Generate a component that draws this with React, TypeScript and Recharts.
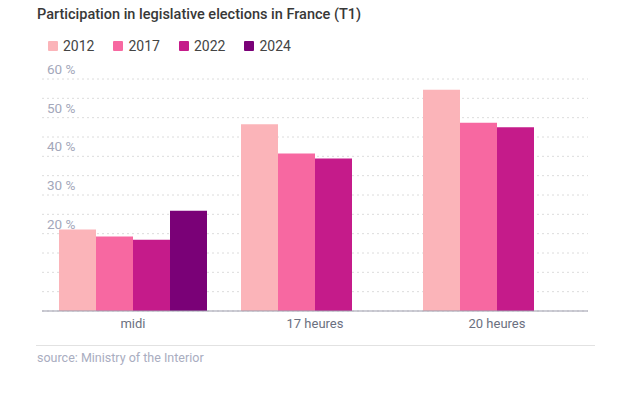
import React from "react";
import { BarChart, Bar, XAxis, YAxis, CartesianGrid } from "recharts";

const categories = ["midi", "17 heures", "20 heures"];
const years = ["2012", "2017", "2022", "2024"];
const colors = ["#fbb4b9", "#f768a1", "#c51b8a", "#7a0177"];
const values2012 = [21.06, 48.31, 57.22];
const values2017 = [19.24, 40.75, 48.7];
const values2022 = [18.43, 39.42, 47.51];
const values2024: (number | null)[] = [25.9, null, null];
const yTicks = [0, 5, 10, 15, 20, 25, 30, 35, 40, 45, 50, 55, 60];
const labeledTicks = [20, 30, 40, 50, 60];

const seriesValues = [values2012, values2017, values2022, values2024];
const data = categories.map((c, i) => {
  const row: Record<string, any> = { name: c };
  years.forEach((y, j) => {
    row[y] = seriesValues[j][i];
  });
  return row;
});

const FONT = "Roboto, 'Noto Sans', sans-serif";

const renderYTick = (props: any) => {
  const { x, y, payload } = props;
  if (!labeledTicks.includes(payload.value)) return <g />;
  return (
    <text x={x + 5} y={y - 5} fill="#a3a7ba" fontSize={13.5} fontFamily={FONT} textAnchor="start">
      {payload.value} %
    </text>
  );
};

export default function App() {
  return (
    <div style={{ position: "absolute", left: 0, top: 0, width: 624, height: 396, background: "#fff", fontFamily: FONT }}>
      <div style={{ position: "absolute", left: 37, top: 6, fontSize: 14.5, fontWeight: 500, color: "#383838" }}>
        Participation in legislative elections in France (T1)
      </div>
      <div style={{ position: "absolute", left: 48, top: 38, display: "flex", fontSize: 14, color: "#444" }}>
        {years.map((y, i) => (
          <div key={y} style={{ display: "flex", alignItems: "center", marginRight: 19 }}>
            <span style={{ display: "inline-block", width: 10, height: 10, background: colors[i], borderRadius: 1, marginRight: 5 }} />
            <span>{y}</span>
          </div>
        ))}
      </div>
      <div style={{ position: "absolute", left: 0, top: 0 }}>
        <BarChart
          width={624}
          height={396}
          data={data}
          margin={{ top: 79, right: 36, bottom: 55, left: 41 }}
          barCategoryGap={17}
          barGap={0}
        >
          <CartesianGrid vertical={false} stroke="#dcdcdc" strokeDasharray="2 3" />
          <XAxis
            dataKey="name"
            tickLine={false}
            axisLine={{ stroke: "#9b9bab" }}
            tick={{ fill: "#6b7080", fontSize: 13, fontFamily: FONT }}
            interval={0}
          />
          <YAxis
            width={1}
            domain={[0, 60]}
            ticks={yTicks}
            axisLine={false}
            tickLine={false}
            tickSize={0}
            tickMargin={0}
            tick={renderYTick}
            interval={0}
          />
          {years.map((y, i) => (
            <Bar key={y} dataKey={y} fill={colors[i]} isAnimationActive={false} />
          ))}
        </BarChart>
      </div>
      <div style={{ position: "absolute", left: 36, top: 345, width: 559, borderTop: "1px solid #e2e2e2" }} />
      <div style={{ position: "absolute", left: 37, top: 350, fontSize: 12.5, color: "#a9adbf" }}>
        source: Ministry of the Interior
      </div>
    </div>
  );
}
